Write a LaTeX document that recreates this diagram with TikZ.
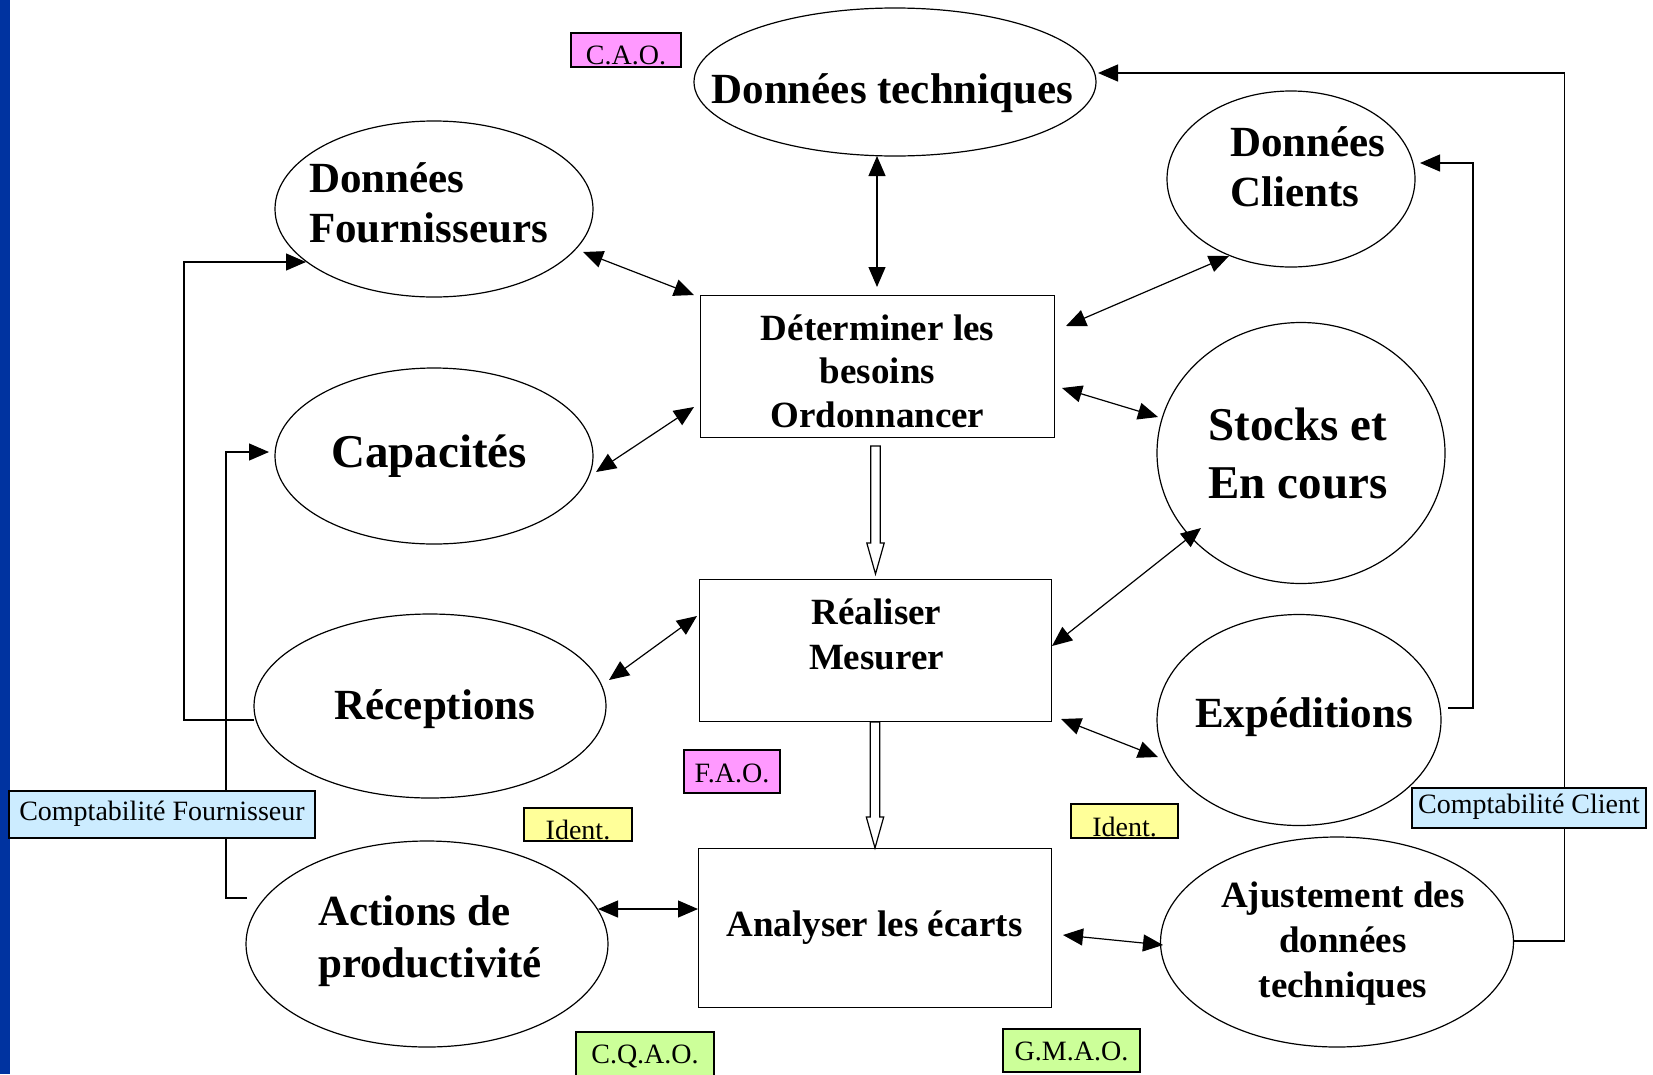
\documentclass[tikz,border=0pt]{standalone}
\usepackage{fontspec}
\setmainfont{Liberation Serif}
\usetikzlibrary{shapes.geometric,arrows.meta,calc}
\definecolor{barblue}{RGB}{0,51,160}
\definecolor{tagpink}{RGB}{255,153,255}
\definecolor{tagyellow}{RGB}{255,255,153}
\definecolor{taggreen}{RGB}{204,255,153}
\definecolor{tagblue}{RGB}{204,236,255}
\newcommand{\hollowarr}[2]{%
  \draw[hollow] let \p1=#1, \p2=#2 in
    (\x1-4.7pt,\y1) -- (\x1-4.7pt,\y2+31pt) -- (\x1-8.7pt,\y2+31pt) -- (\x1,\y2)
    -- (\x1+8.7pt,\y2+31pt) -- (\x1+4.7pt,\y2+31pt) -- (\x1+4.7pt,\y1) -- cycle;}
\begin{document}
\begin{tikzpicture}[x=1pt,y=-1pt,
  oval/.style={ellipse, draw, line width=1.2pt, inner sep=0pt, outer sep=0pt},
  procbox/.style={rectangle, draw, line width=1pt, inner sep=0pt, outer sep=0pt},
  fbig/.style={font=\bfseries\fontsize{43}{50}\selectfont},
  fhuge/.style={font=\bfseries\fontsize{47}{58}\selectfont},
  fmed/.style={font=\bfseries\fontsize{37}{44}\selectfont},
  tag/.style={rectangle, draw, line width=1.6pt, inner sep=0pt, outer sep=0pt,
    font=\fontsize{28}{30}\selectfont, text depth=0pt},
  dbl/.style={{Triangle[length=20pt,width=17pt]}-{Triangle[length=20pt,width=17pt]}, line width=1.2pt},
  arr/.style={-{Triangle[length=20pt,width=17pt]}, line width=1.2pt},
  hollow/.style={draw, line width=1.2pt, fill=white}]
\useasboundingbox (0,0) rectangle (1653,1074);
\fill[barblue] (0,0) rectangle (10,1074);

% main nodes
\node[oval, minimum width=402pt, minimum height=148pt,
  label={[fbig, xshift=-2.5pt, yshift=-10.7pt]center:Données techniques}] (DT) at (895,82) {};
\node[oval, minimum width=318pt, minimum height=176pt,
  label={[fbig, align=left, xshift=-5.5pt, yshift=6pt]center:Données\\Fournisseurs}] (DF) at (434,209) {};
\node[oval, minimum width=248pt, minimum height=176pt,
  label={[fbig, align=left, xshift=17pt, yshift=12pt]center:Données\\Clients}] (DC) at (1291,179) {};
\node[oval, minimum width=318pt, minimum height=176pt,
  label={[fhuge, xshift=-5pt]center:Capacités}] (Cap) at (434,456) {};
\node[oval, minimum width=288pt, minimum height=261pt,
  label={[fhuge, align=left, xshift=-3pt]center:Stocks et\\En cours}] (Stk) at (1301,453) {};
\node[oval, minimum width=352pt, minimum height=184pt,
  label={[fbig, xshift=5pt, yshift=-3.6pt]center:Réceptions}] (Rec) at (430,706) {};
\node[oval, minimum width=284pt, minimum height=211pt,
  label={[fbig, xshift=5pt, yshift=3pt]center:Expéditions}] (Exp) at (1299,720) {};
\node[oval, minimum width=362pt, minimum height=206pt,
  label={[fbig, font=\bfseries\fontsize{43}{52}\selectfont, align=left, xshift=3pt, yshift=3pt]center:Actions de\\productivité}] (Act) at (427,944) {};
\node[oval, minimum width=353pt, minimum height=210pt,
  label={[fmed, font=\bfseries\fontsize{37}{45}\selectfont, align=center, xshift=6pt, yshift=-1.5pt]center:Ajustement des\\données\\techniques}] (Adj) at (1337,942) {};

\node[procbox, minimum width=354pt, minimum height=142pt,
  label={[fmed, font=\bfseries\fontsize{37}{43.5}\selectfont, align=center, xshift=0.5pt, yshift=-5pt]center:Déterminer les\\besoins\\Ordonnancer}] (DB) at (877,366) {};
\node[procbox, minimum width=352pt, minimum height=142pt,
  label={[fmed, font=\bfseries\fontsize{37}{45}\selectfont, align=center, xshift=1.5pt, yshift=16pt]center:Réaliser\\Mesurer}] (RM) at (875,650) {};
\node[procbox, minimum width=353pt, minimum height=159pt,
  label={[fmed, yshift=0pt]center:Analyser les écarts}] (AE) at (874.5,927.5) {};

% double arrows
\draw[dbl] ($(DB.north)+(0,-8)$) -- (DB.north |- DT.south);
\draw[dbl] ($(DF.center)+(149,43)$) -- ($(DB.west)+(-6,-71)$);
\draw[dbl] ($(Cap.center)+(162,16)$) -- ($(DB.west)+(-6,41)$);
\draw[dbl] ($(DC.center)+(-62,77)$) -- ($(DB.east)+(12,-40)$);
\draw[dbl] ($(DB.east)+(8,22)$) -- ($(Stk.center)+(-143,-36)$);
\draw[dbl] ($(Stk.center)+(-100,75)$) -- ($(RM.east)+(1,-4)$);
\draw[dbl] ($(Rec.center)+(179,-26)$) -- ($(RM.west)+(-2,-34)$);
\draw[dbl] ($(RM.east)+(10,69)$) -- ($(Exp.center)+(-141,37)$);
\draw[dbl] ($(Act.center)+(171,-35)$) -- ($(AE.west)+(0,-18.5)$);
\draw[dbl] ($(AE.east)+(12,7.5)$) -- ($(Adj.center)+(-174,3)$);

% elbow arrows
\draw[arr] ($(Rec.west)+(0,14)$) -- ++(-70,0) |- ($(DF.center)+(-128,53)$);
\draw[arr] ($(Act.west)+(1,-46)$) -- ++(-21,0) |- ($(Cap.west)+(-6,-4)$);
\draw[arr] ($(Exp.east)+(7,-12)$) -- ++(25,0) |- ($(DC.east)+(5,-16)$);
\draw[arr] ($(Adj.east)+(0,-1)$) -- ++(51,0) |- ($(DT.east)+(2,-9)$);

% hollow arrows
\hollowarr{($(DB.south)+(-1.5,9)$)}{($(RM.north)+(0,-5)$)}
\hollowarr{($(RM.south)+(0,1)$)}{(AE.north)}

% tags
\node[tag, fill=tagpink, minimum width=110pt, minimum height=34pt, text height=28pt] (cao) at (626,50) {C.A.O.};
\node[tag, fill=tagpink, minimum width=96pt, minimum height=43pt, text height=21pt] (fao) at (732,771.5) {F.A.O.};
\node[tag, fill=tagyellow, minimum width=108pt, minimum height=33pt, text height=29pt] (idl) at (578,824.5) {Ident.};
\node[tag, fill=tagyellow, minimum width=107pt, minimum height=34pt, text height=30pt] (idr) at (1124.5,821) {Ident.};
\node[tag, fill=taggreen, minimum width=138pt, minimum height=46pt, text height=16pt] (cqao) at (645,1055) {C.Q.A.O.};
\node[tag, fill=taggreen, minimum width=137pt, minimum height=43pt, text height=19pt] (gmao) at (1071.5,1050.5) {G.M.A.O.};
\node[tag, fill=tagblue, minimum width=306pt, minimum height=47pt, text height=17pt, text depth=6pt] (cf) at (162,814.5) {Comptabilité Fournisseur};
\node[tag, fill=tagblue, minimum width=234pt, minimum height=40pt, text height=17pt, text depth=6pt] (cc) at (1529,808) {Comptabilité Client};
\end{tikzpicture}
\end{document}
